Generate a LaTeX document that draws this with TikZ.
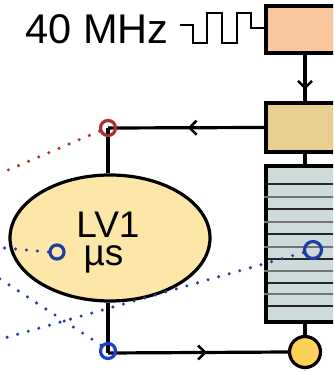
\documentclass[tikz,border=0pt]{standalone}
\usepackage{fontspec}
\setmainfont{Liberation Sans}
\usepackage{xcolor}
\usetikzlibrary{decorations.markings,arrows.meta,shapes.geometric}

\definecolor{clkpeach}{HTML}{FAC8A0}
\definecolor{synctan}{HTML}{E8CF90}
\definecolor{bufgrey}{HTML}{CEDBDB}
\definecolor{lvfill}{HTML}{FCE6A8}
\definecolor{pmtyellow}{HTML}{FFD057}
\definecolor{tapred}{HTML}{A8302D}
\definecolor{tapblue}{HTML}{1F3E9E}
\definecolor{tapbright}{HTML}{1C3FD0}

\tikzset{
  blockbox/.style={draw, line width=3.2pt, minimum width=78pt},
  wire/.style={line width=3.2pt},
  midarrow/.style={wire, postaction={decorate}, decoration={markings,
    mark=at position #1 with {\arrow[line width=2.6pt]{Straight Barb[length=7pt,width=14pt]}}}},
  tapring/.style={circle, draw, line width=3.2pt, minimum size=15pt, inner sep=0pt},
  probe/.style={line width=3.4pt, line cap=round, dash pattern=on 0pt off 11pt},
  lvtext/.style={font=\fontsize{37}{37}\selectfont, inner sep=0pt, anchor=base}
}

\begin{document}
\begin{tikzpicture}[x=1pt,y=-1pt]
\useasboundingbox (0,0) rectangle (333,371);
\clip (0,0) rectangle (333,371);
% clock source
\node[anchor=east, font=\fontsize{41.5}{42}\selectfont] (freq) at (172,29) {40 MHz};
\node[blockbox, fill=clkpeach, minimum height=47pt] (osc) at (305,29.5) {};
\draw[line width=1.3pt] (180,25)--(193,25)--(193,43)--(207,43)--(207,13)--(222,13)--(222,43)
  --(237,43)--(237,13)--(251,13)--(251,28)--(osc.west |- 0,28);
% blocks on the right
\node[blockbox, fill=synctan, minimum height=49pt] (sync) at (305,127.5) {};
\node[blockbox, fill=bufgrey, minimum height=156pt] (buf) at (305,244) {};
\foreach \y [count=\i] in {184,197,209,222,234,247,259,271,283,294,306}{
  \ifodd\i
    \draw[line width=1.3pt, black!85] (268,\y) -- (346,\y);
  \else
    \draw[line width=1.6pt, black!55] (buf.west |- 0,\y) -- (346,\y);
  \fi
}
\node[circle, draw, line width=3.2pt, fill=pmtyellow, minimum size=31pt, inner sep=0pt] (pmt) at (305,352) {};
% the LV1 ellipse
\node[ellipse, draw, line width=3.2pt, fill=lvfill, minimum width=200pt, minimum height=126pt] (lv) at (110,238) {};
\node[lvtext, text height=27pt, text depth=0pt] (lvname) at (108,237) {LV1};
\node[lvtext, text height=19pt, text depth=8pt] (lvunit) at (103.5,265) {µs};
% taps
\coordinate (tapA) at (108,128);
\coordinate (tapB) at (108,353);
\coordinate (pmtout) at (305,378);
\draw[midarrow=0.75] (osc.south) -- (sync.north);
\draw[midarrow=0.49] (sync.west) -- (tapA);
\draw[wire] (tapA) -- (lv.north -| tapA);
\draw[wire] (sync.south) -- (buf.north);
\draw[wire] (buf.south) -- (pmt.north);
\draw[line width=3pt, black!12] (pmt.south) -- (pmtout);
\draw[wire] (lv.south -| tapB) -- (tapB);
\draw[midarrow=0.55] (tapB) -- (pmt.west);
\node[tapring, draw=tapred] (redtap) at (tapA) {};
\node[tapring, draw=tapbright] (bottap) at (108,351) {};
\node[tapring, draw=tapblue, minimum size=14pt] (lvtap) at (57,252) {};
\node[tapring, draw=tapblue, minimum size=17pt] (buftap) at (313,250) {};
% dotted probe lines
\coordinate (redend) at (-6,176);
\coordinate (lvend) at (-6,247);
\coordinate (botend) at (-6,275);
\coordinate (bufend) at (-6,341);
\draw[probe, tapred] (redtap.200) -- (redend);
\draw[probe, tapblue] (lvtap.west) -- (lvend);
\draw[probe, tapblue] (bottap.140) -- (botend);
\draw[probe, tapblue] (buftap.195) -- (bufend);
\end{tikzpicture}
\end{document}
